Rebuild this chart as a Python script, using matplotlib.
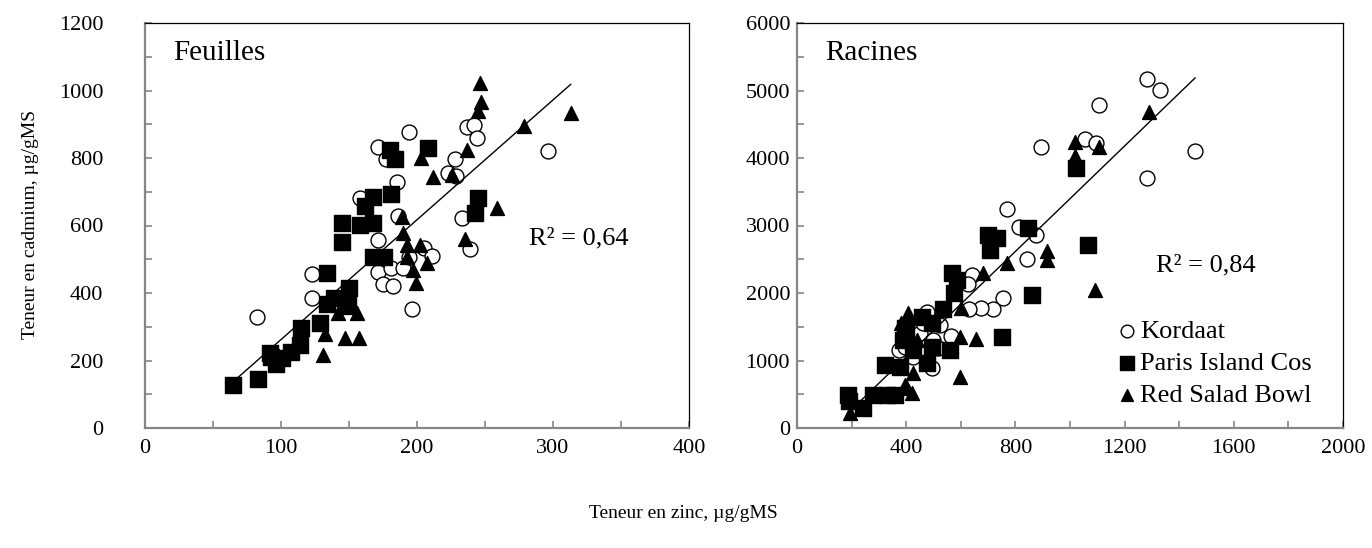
import matplotlib.pyplot as plt
from matplotlib.ticker import MultipleLocator
import numpy as np

plt.rcParams['font.family'] = ['Liberation Serif', 'DejaVu Serif']

# Feuilles (zinc, cadmium)
leaf_kordaat_zn = [82, 123, 123, 158, 171, 171, 177, 185, 186, 194, 171, 181, 175, 182, 190, 194,
                   205, 211, 196, 239, 223, 228, 229, 237, 242, 244, 233, 296]
leaf_kordaat_cd = [329, 456, 386, 681, 557, 833, 797, 729, 628, 877, 462, 474, 427, 421, 474, 507,
                   533, 510, 353, 530, 755, 797, 747, 892, 898, 859, 622, 821]
leaf_paris_zn = [65, 83, 92, 96, 101, 107, 114, 115, 129, 134, 134, 139, 150, 149, 145, 145, 158,
                 168, 162, 168, 181, 168, 176, 180, 184, 208, 245, 243, 93]
leaf_paris_cd = [127, 145, 222, 190, 207, 225, 246, 295, 311, 459, 368, 385, 415, 364, 607, 551, 601,
                 607, 658, 684, 693, 507, 507, 824, 797, 830, 681, 637, 210]
leaf_red_zn = [131, 132, 142, 147, 156, 157, 148, 189, 190, 193, 202, 193, 197, 207, 199, 235, 259,
               203, 212, 226, 237, 245, 247, 246, 279, 313]
leaf_red_cd = [216, 279, 340, 267, 340, 267, 359, 626, 578, 542, 542, 507, 468, 489, 430, 560, 652,
               800, 744, 750, 824, 939, 966, 1022, 895, 933]

# Racines (zinc, cadmium)
root_kordaat_zn = [1282, 1330, 1106, 894, 1055, 1095, 1458, 1282, 769, 813, 875, 842, 641, 626, 754,
                   718, 674, 630, 564, 494, 476, 374, 425, 524, 516, 450, 500, 420, 460, 395]
root_kordaat_cd = [5170, 5007, 4785, 4163, 4281, 4222, 4104, 3704, 3244, 2978, 2859, 2504, 2267, 2133,
                   1926, 1763, 1778, 1763, 1363, 889, 1719, 1156, 1052, 1526, 1185, 1407, 1300, 1250,
                   1550, 1200]
root_paris_zn = [1022, 846, 700, 733, 707, 1066, 861, 751, 568, 586, 576, 535, 458, 494, 396, 388, 425,
                 494, 560, 476, 377, 322, 187, 242, 278, 330, 360, 190, 400]
root_paris_cd = [3852, 2963, 2859, 2815, 2637, 2711, 1970, 1348, 2296, 2193, 2000, 1763, 1644, 1556,
                 1481, 1304, 1156, 1200, 1156, 963, 904, 933, 489, 296, 489, 489, 489, 400, 1400]
root_red_zn = [1018, 1018, 1106, 1289, 916, 916, 769, 681, 1092, 600, 597, 656, 407, 425, 597, 396,
               421, 404, 194, 380, 440]
root_red_cd = [4237, 4030, 4163, 4681, 2622, 2489, 2444, 2296, 2044, 1778, 1348, 1319, 1704, 815, 756,
               637, 519, 590, 222, 1550, 1300]

# linear trend lines (slope, intercept) and R²
leaf_trend = (3.55, -93)
root_trend = (3.905, -508)
leaf_r2 = 'R² = 0,64'
root_r2 = 'R² = 0,84'

GRAY = '#868686'

fig = plt.figure(figsize=(13.72, 5.48), dpi=100)
ax1 = fig.add_axes([145 / 1372, 120 / 548, 544 / 1372, 405 / 548])
ax2 = fig.add_axes([797 / 1372, 120 / 548, 546 / 1372, 405 / 548])


def draw(ax, k, p, r, trend, r2, title, xmax, ymax, xmaj, ymaj, r2pos, ypad):
    ax.scatter(k[0], k[1], s=115, marker='o', facecolors='white', edgecolors='black',
               linewidths=1.0, zorder=3, label='Kordaat')
    ax.scatter(p[0], p[1], s=145, marker='s', color='black', zorder=4, label='Paris Island Cos')
    ax.scatter(r[0], r[1], s=100, marker='^', color='black', zorder=5, label='Red Salad Bowl')
    allx = np.concatenate([k[0], p[0], r[0]])
    xs = np.array([allx.min(), allx.max()])
    ax.plot(xs, trend[0] * xs + trend[1], color='black', lw=1, zorder=6)
    ax.set_xlim(0, xmax)
    ax.set_ylim(0, ymax)
    ax.xaxis.set_major_locator(MultipleLocator(xmaj))
    ax.xaxis.set_minor_locator(MultipleLocator(xmaj / 2))
    ax.yaxis.set_major_locator(MultipleLocator(ymaj))
    ax.yaxis.set_minor_locator(MultipleLocator(ymaj / 2))
    ax.tick_params(which='both', direction='in', length=5, color=GRAY, width=1.2)
    ax.tick_params(which='major', labelsize=16)
    ax.tick_params(axis='x', which='major', pad=8)
    ax.tick_params(axis='y', which='major', pad=ypad)
    for s in ['left', 'bottom']:
        ax.spines[s].set_color(GRAY)
        ax.spines[s].set_linewidth(1.6)
    for s in ['top', 'right']:
        ax.spines[s].set_color('black')
        ax.spines[s].set_linewidth(0.9)
    ax.text(0.052, 0.925, title, transform=ax.transAxes, fontsize=21, va='center', ha='left')
    ax.text(r2pos[0], r2pos[1], r2, transform=ax.transAxes, fontsize=19, va='center', ha='left')


draw(ax1, (leaf_kordaat_zn, leaf_kordaat_cd), (leaf_paris_zn, leaf_paris_cd),
     (leaf_red_zn, leaf_red_cd), leaf_trend, leaf_r2, 'Feuilles', 400, 1200, 100, 200,
     (0.706, 0.469), 30)
draw(ax2, (root_kordaat_zn, root_kordaat_cd), (root_paris_zn, root_paris_cd),
     (root_red_zn, root_red_cd), root_trend, root_r2, 'Racines', 2000, 6000, 400, 1000,
     (0.657, 0.402), 5)

leg = ax2.legend(loc='upper left', bbox_to_anchor=(0.5795, 0.268), frameon=False, fontsize=19,
                 handletextpad=0.0, labelspacing=0.33, borderaxespad=0.0, borderpad=0.0,
                 markerscale=0.85, handlelength=1.0)

fig.text(0.022, 0.59, 'Teneur en cadmium, µg/gMS', rotation=90, fontsize=14, ha='center', va='center')
fig.text(0.498, 0.063, 'Teneur en zinc, µg/gMS', fontsize=14, ha='center', va='center')

fig.savefig('out.png', dpi=100)
